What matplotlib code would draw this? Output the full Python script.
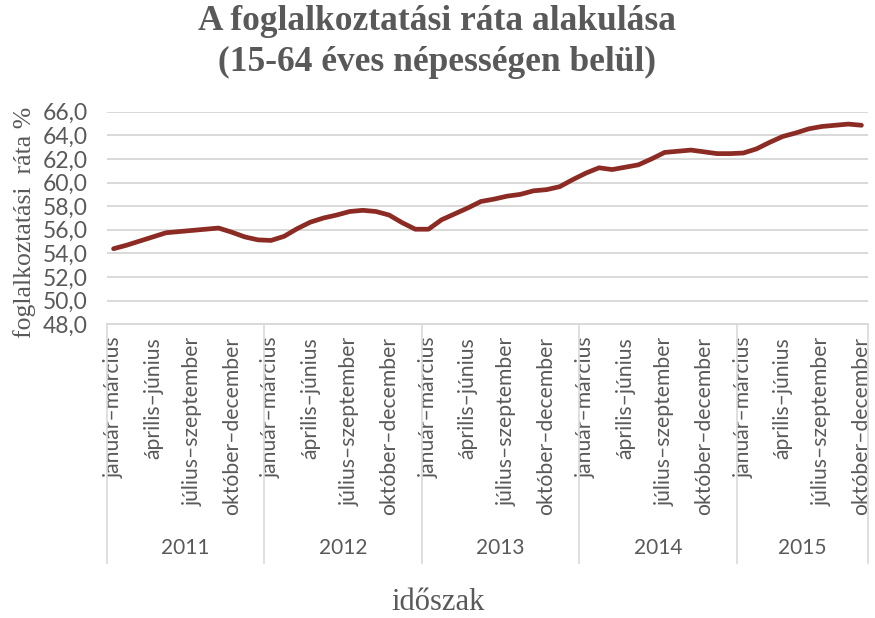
import numpy as np
import matplotlib
matplotlib.use("Agg")
import matplotlib.pyplot as plt

# rolling three-month periods, 2011 jan-mar .. 2015 oct-dec
periods = ["január–március", "február–április", "március–május", "április–június",
           "május–július", "június–augusztus", "július–szeptember", "augusztus–október",
           "szeptember–november", "október–december", "november–január", "december–február"]
years = ["2011", "2012", "2013", "2014", "2015"]
periods_per_year = [12, 12, 12, 12, 10]

rate = [54.4, 54.7, 55.05, 55.4, 55.75, 55.85, 55.95, 56.05, 56.15, 55.8, 55.4, 55.15,
        55.1, 55.45, 56.1, 56.65, 57.0, 57.25, 57.55, 57.65, 57.55, 57.25, 56.6, 56.05,
        56.05, 56.85, 57.35, 57.85, 58.4, 58.6, 58.85, 59.0, 59.3, 59.4, 59.65, 60.25,
        60.8, 61.25, 61.1, 61.3, 61.5, 62.0, 62.55, 62.65, 62.75, 62.6, 62.45, 62.45,
        62.5, 62.85, 63.4, 63.9, 64.2, 64.55, 64.75, 64.85, 64.95, 64.85]

GRAY = "#595959"
LIGHT = "#d9d9d9"
LINE = "#8c2b24"
TICK_FONT = ["Lato", "DejaVu Sans"]
SERIF = ["Liberation Serif", "DejaVu Serif"]

labels = []
for n in periods_per_year:
    labels += periods[:n]
x = np.arange(len(rate))

fig = plt.figure(figsize=(8.75, 6.18), dpi=100)
ax = fig.add_axes([0.1223, 0.4752, 0.8697, 0.3441])

ax.plot(x, rate, color=LINE, lw=3.4, solid_capstyle="round", solid_joinstyle="round", zorder=3)

ax.set_xlim(-0.5, len(rate) - 0.5)
ax.set_ylim(48, 66)
yt = np.arange(48, 67, 2)
ax.set_yticks(yt)
ax.set_yticklabels([f"{v:.1f}".replace(".", ",") for v in yt], fontsize=16.5,
                   color=GRAY, family=TICK_FONT)
ax.tick_params(axis="y", length=0, pad=14)
ax.grid(axis="y", color=LIGHT, lw=1.4)
ax.set_axisbelow(True)

shown = x[::3]
ax.set_xticks(shown)
ax.set_xticklabels([labels[i] for i in shown], rotation=90, fontsize=15.2, color=GRAY,
                   family=TICK_FONT, va="top", ha="center")
ax.tick_params(axis="x", length=0, pad=9)

for s in ["left", "right", "top"]:
    ax.spines[s].set_visible(False)
ax.spines["bottom"].set_color(LIGHT)
ax.spines["bottom"].set_linewidth(1.4)

# year level of the category axis
tr = ax.get_xaxis_transform()
edges = np.concatenate([[0], np.cumsum(periods_per_year)]) - 0.5
for e in edges:
    ax.plot([e, e], [0, -1.123], transform=tr, color=LIGHT, lw=1.2, clip_on=False)
for i, yr in enumerate(years):
    ax.text((edges[i] + edges[i + 1]) / 2, -1.052, yr, transform=tr, ha="center",
            va="center", fontsize=15, color=GRAY, family=TICK_FONT)

fig.text(0.5, 1 - 22 / 618, "A foglalkoztatási ráta alakulása", ha="center", va="center",
         fontsize=25.5, fontweight="bold", color=GRAY, family=SERIF)
fig.text(0.5, 1 - 62 / 618, "(15-64 éves népességen belül)", ha="center", va="center",
         fontsize=25.5, fontweight="bold", color=GRAY, family=SERIF)
fig.text(25 / 875, 1 - 222 / 618, "foglalkoztatási  ráta %", rotation=90, ha="center",
         va="center", fontsize=18.5, color=GRAY, family=SERIF)
fig.text(438 / 875, 1 - 603 / 618, "időszak", ha="center", va="center", fontsize=22,
         color=GRAY, family=SERIF)

fig.savefig("out.png", dpi=100)
